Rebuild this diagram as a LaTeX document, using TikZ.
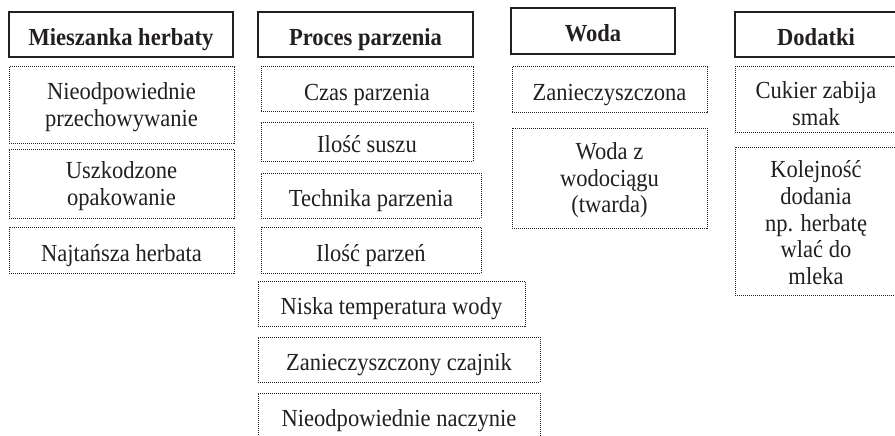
\documentclass[tikz,border=0pt]{standalone}
\usepackage{fontspec}
\setmainfont[FakeStretch=0.92]{Liberation Serif}
\definecolor{txt}{HTML}{231F20}
\newcommand{\topgap}[1]{\rule{0pt}{#1}}

\begin{document}
\begin{tikzpicture}[x=1pt,y=-1pt,
  every node/.style={text=txt,align=center,inner sep=0pt,font=\fontsize{24.5}{26.7}\selectfont,
    execute at begin node={\rule{0pt}{28pt}},execute at end node={\rule[-6pt]{0pt}{6pt}}},
  head/.style={draw=txt,line width=1.5pt,font=\fontsize{24.5}{26.7}\selectfont\bfseries},
  cause/.style={draw=txt,densely dotted,line width=1pt}]
\useasboundingbox (0,0) rectangle (895,436);
\clip (0,0) rectangle (895,436);

\node[head,minimum width=224pt,minimum height=45pt] (mieszanka) at (121,34.5) {Mieszanka herbaty};
\node[cause,minimum width=225pt,minimum height=76pt] (przech) at (121.5,105) {\topgap{22pt}Nieodpowiednie\\przechowywanie};
\node[cause,minimum width=225pt,minimum height=69pt] (opak) at (121.5,183.5) {\topgap{23.5pt}Uszkodzone\\opakowanie};
\node[cause,minimum width=225pt,minimum height=46pt] (tania) at (121.5,250) {Najtańsza herbata};

\node[head,minimum width=215pt,minimum height=45pt] (proces) at (365.5,34.5) {Proces parzenia};
\node[cause,minimum width=212pt,minimum height=45pt] (czas) at (367,89.5) {Czas parzenia};
\node[cause,minimum width=212pt,minimum height=39pt] (susz) at (367,141.5) {Ilość suszu};
\node[cause,minimum width=220pt,minimum height=45pt] (technika) at (371,195.5) {Technika parzenia};
\node[cause,minimum width=220pt,minimum height=46pt] (ilosc) at (371,250) {Ilość parzeń};
\node[cause,minimum width=267pt,minimum height=45pt] (temp) at (391.5,303.5) {Niska temperatura wody};
\node[cause,minimum width=282pt,minimum height=45pt] (czajnik) at (399,359.5) {Zanieczyszczony czajnik};
\node[cause,minimum width=282pt,minimum height=45pt] (naczynie) at (399,415.5) {Nieodpowiednie naczynie};

\node[head,minimum width=164pt,minimum height=46pt] (woda) at (593,31) {Woda};
\node[cause,minimum width=195pt,minimum height=46pt] (brudna) at (609.5,90) {Zanieczyszczona};
\node[cause,minimum width=195pt,minimum height=100pt] (twarda) at (609.5,178) {\topgap{22pt}Woda z\\wodociągu\\(twarda)};

\node[head,minimum width=162pt,minimum height=45pt] (dodatki) at (816,34.5) {Dodatki};
\node[cause,minimum width=162pt,minimum height=65pt] (cukier) at (816,99.5) {\topgap{31.5pt}Cukier zabija\\smak};
\node[cause,minimum width=162pt,minimum height=148pt] (kolejnosc) at (816,221) {\topgap{26.5pt}Kolejność\\dodania\\np. herbatę\\wlać do\\mleka};
\end{tikzpicture}
\end{document}
